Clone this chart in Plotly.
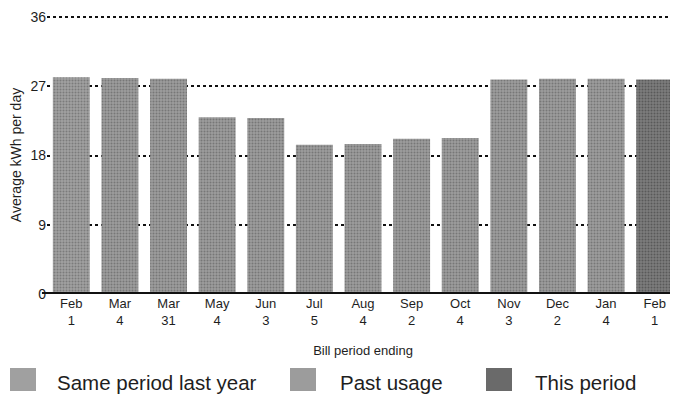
import plotly.graph_objects as go

months = ["Feb", "Mar", "Mar", "May", "Jun", "Jul", "Aug", "Sep", "Oct", "Nov", "Dec", "Jan", "Feb"]
days = ["1", "4", "31", "4", "3", "5", "4", "2", "4", "3", "2", "4", "1"]
usage = [28.2, 28.1, 28.0, 23.0, 22.9, 19.4, 19.5, 20.2, 20.3, 27.9, 28.0, 28.0, 27.9]
groups = ["Same period last year"] + ["Past usage"] * 11 + ["This period"]
y_ticks = [0, 9, 18, 27, 36]

tick_text = [f"{m}<br>{d}" for m, d in zip(months, days)]
xs = list(range(len(usage)))

styles = {
    "Same period last year": dict(bg="#a0a0a0", fg="#555555"),
    "Past usage": dict(bg="#9c9c9c", fg="#525252"),
    "This period": dict(bg="#7c7c7c", fg="#363636"),
}

fig = go.Figure()
for g in ["Same period last year", "Past usage", "This period"]:
    gx = [x for x, gg in zip(xs, groups) if gg == g]
    gy = [v for v, gg in zip(usage, groups) if gg == g]
    st = styles[g]
    fig.add_trace(go.Bar(
        x=gx, y=gy, name=g, width=0.76, showlegend=False,
        marker=dict(color=st["bg"], line=dict(width=0),
                    pattern=dict(shape=".", fgcolor=st["fg"], bgcolor=st["bg"],
                                 size=3, solidity=0.35)),
    ))

font_family = "Liberation Sans, Arial, sans-serif"

# page is rendered with an 8px body margin offset
OFF = 8
PLOT_L, PLOT_R, PLOT_T, PLOT_B = 47, 679, 16, 294
W, H = 678, 415

fig.update_layout(
    width=W, height=H,
    margin=dict(l=PLOT_L - OFF, r=W + OFF - PLOT_R, t=PLOT_T - OFF, b=H + OFF - PLOT_B),
    paper_bgcolor="white", plot_bgcolor="white",
    barmode="overlay",
    font=dict(family=font_family, color="#1e1e1e", size=13),
    xaxis=dict(
        tickmode="array", tickvals=xs, ticktext=tick_text,
        range=[-0.5, len(usage) - 0.5], automargin=False,
        showgrid=False, showline=False, zeroline=False, ticks="",
        tickfont=dict(size=13),
        title=dict(text="Bill period ending", font=dict(size=13), standoff=18),
    ),
    yaxis=dict(
        range=[0, 36.15], tickvals=y_ticks, ticktext=[str(t) for t in y_ticks],
        automargin=False,
        showgrid=True, gridcolor="#111111", gridwidth=2, griddash="dot",
        zeroline=False, showline=False, ticks="",
        tickfont=dict(size=14),
        title=dict(text="Average kWh per day", font=dict(size=14), standoff=8),
    ),
)

# baseline
fig.add_shape(type="line", xref="paper", yref="y", x0=-0.008, x1=1, y0=0, y1=0,
              line=dict(color="#111111", width=4), layer="above")

def px_x(p):
    return (p - PLOT_L) / (PLOT_R - PLOT_L)

def px_y(p):
    return (PLOT_B - p) / (PLOT_B - PLOT_T)

# manual legend
legend_items = [("Same period last year", 10, 55), ("Past usage", 290, 338), ("This period", 486, 533)]
for name, sx, tx in legend_items:
    st = styles[name]
    fig.add_shape(type="rect", xref="paper", yref="paper",
                  x0=px_x(sx), x1=px_x(sx + 26),
                  y0=px_y(391), y1=px_y(368),
                  fillcolor=st["bg"] if name != "This period" else "#6a6a6a", line=dict(width=0))
    fig.add_annotation(xref="paper", yref="paper", x=px_x(tx), y=px_y(382),
                       text=name, showarrow=False, xanchor="left", yanchor="middle",
                       font=dict(size=20.5, color="#1e1e1e"))

fig.write_html("out.html")
